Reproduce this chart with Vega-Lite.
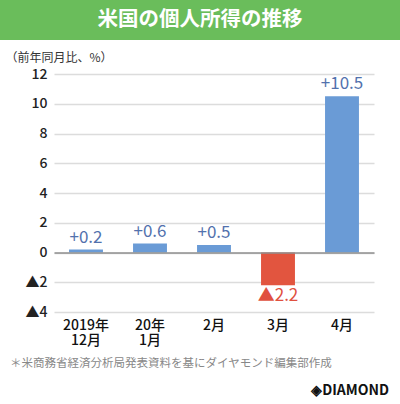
{
  "$schema": "https://vega.github.io/schema/vega-lite/v6.json",
  "padding": 0,
  "background": "white",
  "config": {"view": {"stroke": null}, "font": "Noto Sans CJK JP"},
  "spacing": 11,
  "vconcat": [
    {
      "width": 400,
      "height": 40,
      "view": {"fill": "#6abd5b", "stroke": null},
      "data": {"values": [{"t": "米国の個人所得の推移"}]},
      "mark": {"type": "text", "color": "white", "fontSize": 20.5, "fontWeight": "bold", "baseline": "middle"},
      "encoding": {"text": {"field": "t"}}
    },
    {
      "width": 400,
      "height": 238,
      "data": {"values": [
        {"month": "2019年\n12月", "value": 0.2, "label": "+0.2"},
        {"month": "20年\n1月", "value": 0.6, "label": "+0.6"},
        {"month": "2月", "value": 0.5, "label": "+0.5"},
        {"month": "3月", "value": -2.2, "label": "▲2.2"},
        {"month": "4月", "value": 10.5, "label": "+10.5"}
      ]},
      "resolve": {"axis": {"x": "independent"}},
      "encoding": {
        "y": {"field": "value", "type": "quantitative",
          "scale": {"domain": [-4, 12], "nice": false},
          "axis": {"title": "（前年同月比、%）", "titleAngle": 0, "titleAlign": "left", "titleBaseline": "middle",
            "titleX": -49, "titleY": -17, "titleFontSize": 12, "titleFontWeight": "normal", "titleColor": "#333",
            "offset": -54,
            "values": [-4, -2, 0, 2, 4, 6, 8, 10, 12], "labelOverlap": false,
            "labelExpr": "datum.value < 0 ? '▲' + abs(datum.value) : datum.label",
            "labelFontSize": 14, "labelColor": "#222", "labelPadding": 7, "ticks": false, "domain": false,
            "grid": true, "gridColor": "#dcdcdc", "gridWidth": 1.5,
            "labelFontWeight": 500}}
      },
      "layer": [
        {
          "mark": {"type": "bar"},
          "encoding": {
            "x": {"field": "month", "type": "nominal", "sort": null,
              "scale": {"range": [54, 374], "paddingInner": 0.47, "paddingOuter": 0.235},
              "axis": {"title": null, "labelAngle": 0, "labelExpr": "split(datum.value, '\\n')",
                "labelFontSize": 14, "labelColor": "#111", "labelPadding": 6, "ticks": false, "domain": false,
                "labelLineHeight": 15, "labelBaseline": "top", "labelFontWeight": 500}},
            "color": {"condition": {"test": "datum.value < 0", "value": "#e2553f"}, "value": "#6a9bd6"}
          }
        },
        {
          "transform": [{"filter": "datum.value >= 0"}],
          "mark": {"type": "text", "baseline": "bottom", "dy": -3, "fontSize": 17, "color": "#5271ad"},
          "encoding": {
            "x": {"field": "month", "type": "nominal", "sort": null,
              "scale": {"range": [54, 374], "paddingInner": 0.47, "paddingOuter": 0.235},
              "axis": {"orient": "top", "offset": -178.5, "labels": false, "ticks": false, "title": null, "grid": false,
                "domain": true, "domainColor": "#8f8f8f", "domainWidth": 1.5, "zindex": 1}},
            "text": {"field": "label"}
          }
        },
        {
          "transform": [{"filter": "datum.value < 0"}],
          "mark": {"type": "text", "baseline": "top", "dy": 3, "fontSize": 17, "color": "#e0513f"},
          "encoding": {
            "x": {"field": "month", "type": "nominal", "sort": null,
              "scale": {"range": [54, 374], "paddingInner": 0.47, "paddingOuter": 0.235},
              "axis": null},
            "text": {"field": "label"}
          }
        }
      ]
    },
    {
      "width": 400,
      "height": 40,
      "data": {"values": [{"note": "＊米商務省経済分析局発表資料を基にダイヤモンド編集部作成", "logo": "◈DIAMOND"}]},
      "layer": [
        {
          "mark": {"type": "text", "align": "left", "baseline": "middle", "dx": -190, "dy": -26, "fontSize": 11.5, "color": "#888888"},
          "encoding": {"text": {"field": "note"}}
        },
        {
          "mark": {"type": "text", "align": "right", "baseline": "middle", "dx": 189, "dy": 1, "fontSize": 14, "fontWeight": "bold", "color": "#111111"},
          "encoding": {"text": {"field": "logo"}}
        }
      ]
    }
  ]
}
